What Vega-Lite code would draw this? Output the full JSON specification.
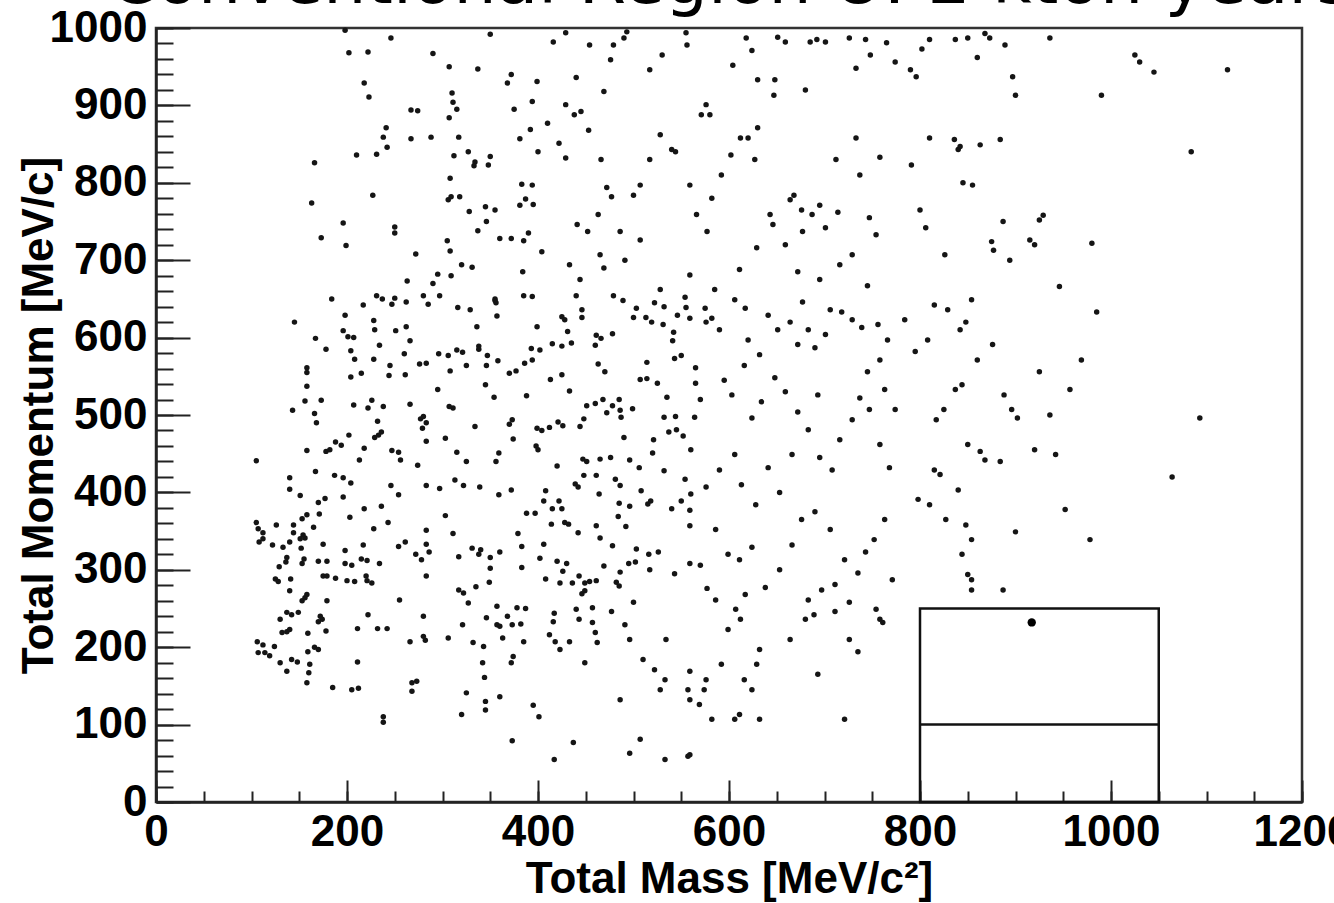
{
  "$schema": "https://vega.github.io/schema/vega-lite/v6.json",
  "width": 1146,
  "height": 774,
  "autosize": {"type": "none"},
  "padding": {"left": 156, "top": 28, "right": 32, "bottom": 101},
  "background": "white",
  "title": {
    "text": "Conventional Region U: 2 kton years",
    "anchor": "start",
    "frame": "group",
    "font": "DejaVu Sans",
    "fontSize": 68,
    "fontWeight": "normal",
    "color": "black",
    "baseline": "alphabetic",
    "offset": -65,
    "dx": -47
  },
  "datasets": {
    "events": [
      {"mass":198,"mom":997},{"mass":202,"mom":968},{"mass":222,"mom":969},{"mass":246,"mom":987},{"mass":290,"mom":967},{"mass":307,"mom":950},{"mass":337,"mom":947},{"mass":350,"mom":992},{"mass":372,"mom":940},{"mass":368,"mom":929},{"mass":399,"mom":931},{"mass":394,"mom":905},{"mass":218,"mom":929},{"mass":223,"mom":911},{"mass":310,"mom":916},{"mass":311,"mom":904},{"mass":315,"mom":895},{"mass":307,"mom":884},{"mass":267,"mom":894},{"mass":274,"mom":893},{"mass":241,"mom":871},{"mass":238,"mom":859},{"mass":242,"mom":846},{"mass":210,"mom":836},{"mass":231,"mom":837},{"mass":267,"mom":857},{"mass":288,"mom":859},{"mass":317,"mom":859},{"mass":375,"mom":895},{"mass":392,"mom":869},{"mass":381,"mom":857},{"mass":410,"mom":877},{"mass":312,"mom":835},{"mass":327,"mom":840},{"mass":334,"mom":827},{"mass":333,"mom":822},{"mass":348,"mom":823},{"mass":350,"mom":834},{"mass":400,"mom":840},{"mass":166,"mom":826},{"mass":308,"mom":806},{"mass":163,"mom":774},{"mass":227,"mom":784},{"mass":383,"mom":798},{"mass":394,"mom":797},{"mass":306,"mom":778},{"mass":309,"mom":782},{"mass":318,"mom":782},{"mass":328,"mom":763},{"mass":345,"mom":769},{"mass":355,"mom":765},{"mass":381,"mom":771},{"mass":387,"mom":779},{"mass":395,"mom":772},{"mass":346,"mom":750},{"mass":337,"mom":738},{"mass":196,"mom":748},{"mass":173,"mom":729},{"mass":199,"mom":719},{"mass":250,"mom":743},{"mass":250,"mom":735},{"mass":305,"mom":725},{"mass":308,"mom":712},{"mass":360,"mom":728},{"mass":372,"mom":728},{"mass":385,"mom":725},{"mass":390,"mom":735},{"mass":272,"mom":708},{"mass":320,"mom":694},{"mass":331,"mom":691},{"mass":384,"mom":685},{"mass":404,"mom":711},{"mass":263,"mom":673},{"mass":295,"mom":682},{"mass":309,"mom":680},{"mass":290,"mom":670},{"mass":184,"mom":650},{"mass":231,"mom":654},{"mass":237,"mom":650},{"mass":250,"mom":651},{"mass":280,"mom":654},{"mass":297,"mom":654},{"mass":355,"mom":650},{"mass":385,"mom":654},{"mass":394,"mom":653},
      {"mass":153,"mom":260},{"mass":179,"mom":260},{"mass":255,"mom":261},{"mass":327,"mom":257},{"mass":357,"mom":253},{"mass":378,"mom":251},{"mass":387,"mom":250},{"mass":417,"mom":244},{"mass":416,"mom":233},{"mass":440,"mom":249},{"mass":457,"mom":251},{"mass":457,"mom":232},{"mass":460,"mom":219},{"mass":462,"mom":206},{"mass":130,"mom":236},{"mass":137,"mom":245},{"mass":142,"mom":242},{"mass":149,"mom":245},{"mass":172,"mom":240},{"mass":174,"mom":236},{"mass":170,"mom":233},{"mass":222,"mom":242},{"mass":280,"mom":240},{"mass":321,"mom":229},{"mass":346,"mom":238},{"mass":357,"mom":229},{"mass":360,"mom":227},{"mass":368,"mom":240},{"mass":373,"mom":229},{"mass":382,"mom":230},{"mass":132,"mom":219},{"mass":137,"mom":220},{"mass":140,"mom":223},{"mass":159,"mom":218},{"mass":178,"mom":221},{"mass":211,"mom":224},{"mass":232,"mom":224},{"mass":242,"mom":224},{"mass":306,"mom":212},{"mass":280,"mom":214},{"mass":282,"mom":209},{"mass":266,"mom":207},{"mass":332,"mom":206},{"mass":343,"mom":201},{"mass":363,"mom":212},{"mass":385,"mom":207},{"mass":412,"mom":216},{"mass":418,"mom":207},{"mass":423,"mom":197},{"mass":433,"mom":207},{"mass":449,"mom":180},{"mass":372,"mom":180},{"mass":374,"mom":188},{"mass":342,"mom":180},{"mass":344,"mom":161},{"mass":106,"mom":207},{"mass":112,"mom":203},{"mass":107,"mom":193},{"mass":114,"mom":193},{"mass":119,"mom":189},{"mass":124,"mom":201},{"mass":130,"mom":180},{"mass":137,"mom":169},{"mass":142,"mom":184},{"mass":148,"mom":181},{"mass":159,"mom":194},{"mass":166,"mom":200},{"mass":170,"mom":197},{"mass":161,"mom":178},{"mass":160,"mom":167},{"mass":158,"mom":154},{"mass":185,"mom":148},{"mass":205,"mom":145},{"mass":212,"mom":147},{"mass":211,"mom":181},{"mass":268,"mom":154},{"mass":268,"mom":143},{"mass":273,"mom":156},{"mass":325,"mom":141},{"mass":320,"mom":113},{"mass":345,"mom":130},{"mass":345,"mom":119},{"mass":360,"mom":136},{"mass":395,"mom":125},{"mass":401,"mom":110},{"mass":238,"mom":110},{"mass":238,"mom":103},{"mass":373,"mom":79},{"mass":437,"mom":77},{"mass":417,"mom":55},{"mass":443,"mom":236},
      {"mass":217,"mom":642},{"mass":247,"mom":643},{"mass":262,"mom":646},{"mass":285,"mom":643},{"mass":316,"mom":639},{"mass":329,"mom":636},{"mass":355,"mom":648},{"mass":356,"mom":645},{"mass":357,"mom":628},{"mass":440,"mom":654},{"mass":446,"mom":636},{"mass":446,"mom":626},{"mass":479,"mom":654},{"mass":489,"mom":648},{"mass":503,"mom":638},{"mass":522,"mom":645},{"mass":532,"mom":640},{"mass":554,"mom":652},{"mass":555,"mom":639},{"mass":546,"mom":629},{"mass":559,"mom":625},{"mass":575,"mom":638},{"mass":576,"mom":620},{"mass":500,"mom":626},{"mass":513,"mom":626},{"mass":519,"mom":620},{"mass":531,"mom":617},{"mass":425,"mom":627},{"mass":428,"mom":623},{"mass":431,"mom":608},{"mass":399,"mom":614},{"mass":336,"mom":614},{"mass":145,"mom":620},{"mass":198,"mom":629},{"mass":228,"mom":622},{"mass":229,"mom":610},{"mass":251,"mom":609},{"mass":262,"mom":614},{"mass":266,"mom":596},{"mass":196,"mom":609},{"mass":201,"mom":601},{"mass":207,"mom":600},{"mass":167,"mom":599},{"mass":178,"mom":585},{"mass":234,"mom":590},{"mass":461,"mom":603},{"mass":466,"mom":599},{"mass":478,"mom":605},{"mass":460,"mom":590},{"mass":542,"mom":607},{"mass":541,"mom":596},{"mass":415,"mom":592},{"mass":425,"mom":589},{"mass":435,"mom":593},{"mass":393,"mom":586},{"mass":402,"mom":584},{"mass":338,"mom":589},{"mass":338,"mom":585},{"mass":347,"mom":577},{"mass":358,"mom":570},{"mass":321,"mom":581},{"mass":315,"mom":584},{"mass":306,"mom":577},{"mass":296,"mom":579},{"mass":204,"mom":583},{"mass":208,"mom":572},{"mass":228,"mom":572},{"mass":260,"mom":579},{"mass":245,"mom":564},{"mass":244,"mom":551},{"mass":261,"mom":552},{"mass":204,"mom":549},{"mass":215,"mom":554},{"mass":158,"mom":561},{"mass":158,"mom":555},{"mass":276,"mom":566},{"mass":283,"mom":567},{"mass":308,"mom":557},{"mass":325,"mom":564},{"mass":346,"mom":564},{"mass":370,"mom":554},{"mass":377,"mom":557},{"mass":386,"mom":567},{"mass":394,"mom":571},{"mass":463,"mom":566},{"mass":470,"mom":556},{"mass":514,"mom":568},{"mass":543,"mom":573},{"mass":550,"mom":577},{"mass":565,"mom":561},{"mass":413,"mom":546},{"mass":425,"mom":552},{"mass":507,"mom":546},{"mass":514,"mom":547},{"mass":525,"mom":541},{"mass":565,"mom":541},{"mass":158,"mom":537},{"mass":295,"mom":533},{"mass":345,"mom":539},{"mass":354,"mom":523},{"mass":388,"mom":525},{"mass":433,"mom":531},{"mass":156,"mom":518},{"mass":173,"mom":519},{"mass":143,"mom":506},{"mass":166,"mom":502},{"mass":168,"mom":490},{"mass":207,"mom":513},{"mass":222,"mom":509},{"mass":226,"mom":519},{"mass":238,"mom":511},{"mass":266,"mom":514},{"mass":307,"mom":511},{"mass":311,"mom":509},{"mass":451,"mom":512},{"mass":460,"mom":515},{"mass":468,"mom":520},{"mass":478,"mom":512},{"mass":485,"mom":520},{"mass":472,"mom":503},{"mass":486,"mom":506},{"mass":487,"mom":497},{"mass":499,"mom":508},{"mass":535,"mom":523},{"mass":570,"mom":520},{"mass":232,"mom":492},{"mass":236,"mom":478},{"mass":229,"mom":471},{"mass":233,"mom":474},{"mass":202,"mom":474},{"mass":277,"mom":495},{"mass":280,"mom":498},{"mass":283,"mom":490},{"mass":279,"mom":483},{"mass":283,"mom":466},{"mass":303,"mom":470},{"mass":334,"mom":485},{"mass":370,"mom":488},{"mass":373,"mom":494},{"mass":374,"mom":469},{"mass":399,"mom":483},{"mass":404,"mom":480},{"mass":412,"mom":484},{"mass":421,"mom":491},{"mass":426,"mom":486},{"mass":444,"mom":485},{"mass":448,"mom":495},{"mass":490,"mom":471},{"mass":521,"mom":468},{"mass":532,"mom":497},{"mass":544,"mom":498},{"mass":564,"mom":497},{"mass":537,"mom":478},{"mass":545,"mom":481},{"mass":552,"mom":473},{"mass":560,"mom":455},{"mass":398,"mom":460},{"mass":400,"mom":455},{"mass":178,"mom":453},{"mass":182,"mom":455},{"mass":188,"mom":465},{"mass":194,"mom":461},{"mass":158,"mom":454},{"mass":218,"mom":457},{"mass":213,"mom":442},{"mass":247,"mom":454},{"mass":254,"mom":452},{"mass":256,"mom":442},{"mass":274,"mom":435},{"mass":315,"mom":452},{"mass":325,"mom":440},{"mass":356,"mom":440},{"mass":359,"mom":451},{"mass":105,"mom":441},{"mass":447,"mom":443},{"mass":451,"mom":440},{"mass":465,"mom":443},{"mass":476,"mom":445},{"mass":496,"mom":442},{"mass":506,"mom":432},{"mass":520,"mom":451},{"mass":420,"mom":434},{"mass":448,"mom":422},{"mass":461,"mom":422},{"mass":439,"mom":411},{"mass":442,"mom":407},{"mass":481,"mom":417},{"mass":486,"mom":409},{"mass":464,"mom":398},{"mass":508,"mom":402},{"mass":532,"mom":428},{"mass":554,"mom":417},{"mass":560,"mom":398},{"mass":576,"mom":407},{"mass":408,"mom":402},{"mass":372,"mom":403},{"mass":359,"mom":397},{"mass":339,"mom":407},{"mass":322,"mom":409},{"mass":313,"mom":416},{"mass":297,"mom":405},{"mass":283,"mom":409},{"mass":246,"mom":409},{"mass":254,"mom":397},{"mass":140,"mom":419},{"mass":140,"mom":404},{"mass":167,"mom":427},{"mass":187,"mom":422},{"mass":196,"mom":419},{"mass":204,"mom":412},{"mass":151,"mom":396},{"mass":196,"mom":394},{"mass":170,"mom":387},{"mass":177,"mom":392},{"mass":218,"mom":379},{"mass":236,"mom":382},{"mass":203,"mom":368},{"mass":171,"mom":372},{"mass":158,"mom":371},{"mass":153,"mom":366},{"mass":144,"mom":358},{"mass":126,"mom":358},{"mass":105,"mom":361},{"mass":107,"mom":353},{"mass":112,"mom":348},{"mass":243,"mom":361},{"mass":228,"mom":353},{"mass":303,"mom":370},{"mass":406,"mom":389},{"mass":415,"mom":379},{"mass":422,"mom":389},{"mass":425,"mom":379},{"mass":388,"mom":373},{"mass":397,"mom":373},{"mass":414,"mom":359},{"mass":428,"mom":361},{"mass":432,"mom":359},{"mass":442,"mom":348},{"mass":461,"mom":357},{"mass":465,"mom":341},{"mass":485,"mom":386},{"mass":496,"mom":382},{"mass":484,"mom":369},{"mass":492,"mom":356},{"mass":515,"mom":385},{"mass":518,"mom":389},{"mass":540,"mom":379},{"mass":550,"mom":389},{"mass":559,"mom":377},{"mass":559,"mom":357},{"mass":311,"mom":347},{"mass":283,"mom":351},{"mass":379,"mom":347},{"mass":165,"mom":355},{"mass":154,"mom":345},{"mass":156,"mom":341},{"mass":144,"mom":348},{"mass":151,"mom":340},{"mass":108,"mom":336},{"mass":112,"mom":340},{"mass":122,"mom":332},{"mass":133,"mom":329},{"mass":140,"mom":336},{"mass":152,"mom":328},{"mass":175,"mom":333},{"mass":198,"mom":325},{"mass":217,"mom":332},{"mass":261,"mom":336},{"mass":254,"mom":330},{"mass":283,"mom":333},{"mass":286,"mom":323},{"mass":272,"mom":320},{"mass":278,"mom":313},{"mass":317,"mom":317},{"mass":331,"mom":328},{"mass":338,"mom":320},{"mass":340,"mom":326},{"mass":350,"mom":316},{"mass":360,"mom":323},{"mass":383,"mom":330},{"mass":406,"mom":333},{"mass":402,"mom":315},{"mass":478,"mom":331},{"mass":503,"mom":327},{"mass":516,"mom":320},{"mass":526,"mom":323},{"mass":137,"mom":316},{"mass":136,"mom":310},{"mass":129,"mom":304},{"mass":155,"mom":314},{"mass":153,"mom":308},{"mass":170,"mom":311},{"mass":179,"mom":311},{"mass":198,"mom":308},{"mass":205,"mom":306},{"mass":215,"mom":314},{"mass":221,"mom":312},{"mass":234,"mom":308},{"mass":420,"mom":311},{"mass":430,"mom":308},{"mass":426,"mom":298},{"mass":469,"mom":305},{"mass":495,"mom":308},{"mass":502,"mom":310},{"mass":517,"mom":300},{"mass":486,"mom":297},{"mass":543,"mom":295},{"mass":559,"mom":308},{"mass":570,"mom":306},{"mass":350,"mom":302},{"mass":383,"mom":303},{"mass":125,"mom":288},{"mass":128,"mom":285},{"mass":141,"mom":288},{"mass":175,"mom":292},{"mass":179,"mom":292},{"mass":188,"mom":289},{"mass":200,"mom":286},{"mass":208,"mom":285},{"mass":220,"mom":292},{"mass":221,"mom":286},{"mass":226,"mom":283},{"mass":283,"mom":292},{"mass":140,"mom":273},{"mass":156,"mom":264},{"mass":158,"mom":268},{"mass":317,"mom":274},{"mass":322,"mom":270},{"mass":335,"mom":278},{"mass":349,"mom":284},{"mass":408,"mom":288},{"mass":423,"mom":283},{"mass":436,"mom":283},{"mass":443,"mom":292},{"mass":449,"mom":283},{"mass":454,"mom":285},{"mass":461,"mom":286},{"mass":482,"mom":284},{"mass":485,"mom":279},{"mass":446,"mom":269},{"mass":449,"mom":273},{"mass":500,"mom":258},{"mass":577,"mom":276},
      {"mass":416,"mom":982},{"mass":429,"mom":994},{"mass":440,"mom":936},{"mass":454,"mom":978},{"mass":469,"mom":918},{"mass":476,"mom":959},{"mass":479,"mom":978},{"mass":490,"mom":987},{"mass":493,"mom":995},{"mass":517,"mom":946},{"mass":530,"mom":965},{"mass":555,"mom":994},{"mass":556,"mom":978},{"mass":571,"mom":888},{"mass":576,"mom":901},{"mass":580,"mom":888},{"mass":604,"mom":952},{"mass":618,"mom":987},{"mass":624,"mom":971},{"mass":630,"mom":933},{"mass":647,"mom":913},{"mass":648,"mom":933},{"mass":651,"mom":988},{"mass":659,"mom":982},{"mass":680,"mom":920},{"mass":685,"mom":982},{"mass":692,"mom":985},{"mass":701,"mom":982},{"mass":726,"mom":987},{"mass":733,"mom":948},{"mass":743,"mom":985},{"mass":748,"mom":965},{"mass":765,"mom":981},{"mass":774,"mom":956},{"mass":790,"mom":946},{"mass":796,"mom":937},{"mass":802,"mom":973},{"mass":810,"mom":985},{"mass":837,"mom":985},{"mass":850,"mom":987},{"mass":860,"mom":962},{"mass":868,"mom":993},{"mass":873,"mom":987},{"mass":897,"mom":937},{"mass":900,"mom":913},{"mass":889,"mom":978},{"mass":936,"mom":987},{"mass":990,"mom":913},{"mass":1025,"mom":965},{"mass":1030,"mom":956},{"mass":1045,"mom":943},{"mass":1122,"mom":946},
      {"mass":429,"mom":901},{"mass":438,"mom":888},{"mass":445,"mom":892},{"mass":422,"mom":851},{"mass":429,"mom":832},{"mass":453,"mom":868},{"mass":466,"mom":830},{"mass":472,"mom":794},{"mass":477,"mom":782},{"mass":463,"mom":759},{"mass":441,"mom":746},{"mass":452,"mom":737},{"mass":465,"mom":707},{"mass":469,"mom":690},{"mass":486,"mom":737},{"mass":500,"mom":784},{"mass":507,"mom":797},{"mass":517,"mom":830},{"mass":528,"mom":862},{"mass":540,"mom":843},{"mass":544,"mom":840},{"mass":559,"mom":797},{"mass":566,"mom":759},{"mass":577,"mom":737},{"mass":582,"mom":780},{"mass":592,"mom":810},{"mass":602,"mom":836},{"mass":612,"mom":858},{"mass":620,"mom":858},{"mass":627,"mom":830},{"mass":630,"mom":871},{"mass":643,"mom":759},{"mass":646,"mom":746},{"mass":664,"mom":778},{"mass":668,"mom":784},{"mass":676,"mom":765},{"mass":687,"mom":759},{"mass":695,"mom":771},{"mass":701,"mom":742},{"mass":712,"mom":830},{"mass":714,"mom":762},{"mass":733,"mom":858},{"mass":737,"mom":810},{"mass":747,"mom":755},{"mass":754,"mom":733},{"mass":758,"mom":833},{"mass":716,"mom":694},{"mass":729,"mom":707},{"mass":745,"mom":667},{"mass":695,"mom":675},{"mass":672,"mom":685},{"mass":611,"mom":688},{"mass":585,"mom":662},{"mass":559,"mom":681},{"mass":528,"mom":662},{"mass":491,"mom":700},{"mass":507,"mom":726},{"mass":444,"mom":675},{"mass":433,"mom":694},{"mass":629,"mom":716},{"mass":659,"mom":720},{"mass":677,"mom":737},
      {"mass":810,"mom":858},{"mass":836,"mom":856},{"mass":840,"mom":843},{"mass":842,"mom":847},{"mass":855,"mom":797},{"mass":863,"mom":849},{"mass":845,"mom":800},{"mass":875,"mom":724},{"mass":877,"mom":713},{"mass":884,"mom":856},{"mass":887,"mom":750},{"mass":915,"mom":726},{"mass":925,"mom":752},{"mass":929,"mom":758},{"mass":946,"mom":666},{"mass":980,"mom":722},{"mass":1084,"mom":840},{"mass":791,"mom":823},{"mass":800,"mom":765},{"mass":806,"mom":742},{"mass":826,"mom":707},{"mass":854,"mom":649},{"mass":920,"mom":720},{"mass":894,"mom":700},
      {"mass":582,"mom":625},{"mass":590,"mom":610},{"mass":606,"mom":649},{"mass":617,"mom":638},{"mass":620,"mom":597},{"mass":632,"mom":578},{"mass":641,"mom":629},{"mass":651,"mom":610},{"mass":664,"mom":620},{"mass":672,"mom":591},{"mass":677,"mom":646},{"mass":683,"mom":610},{"mass":690,"mom":587},{"mass":701,"mom":604},{"mass":706,"mom":636},{"mass":718,"mom":633},{"mass":729,"mom":623},{"mass":739,"mom":613},{"mass":756,"mom":617},{"mass":766,"mom":597},{"mass":595,"mom":545},{"mass":603,"mom":526},{"mass":616,"mom":564},{"mass":624,"mom":496},{"mass":634,"mom":517},{"mass":648,"mom":548},{"mass":659,"mom":530},{"mass":672,"mom":504},{"mass":683,"mom":481},{"mass":695,"mom":445},{"mass":693,"mom":526},{"mass":708,"mom":429},{"mass":716,"mom":468},{"mass":729,"mom":494},{"mass":737,"mom":522},{"mass":747,"mom":507},{"mass":758,"mom":462},{"mass":768,"mom":432},{"mass":590,"mom":429},{"mass":606,"mom":449},{"mass":613,"mom":410},{"mass":628,"mom":384},{"mass":641,"mom":432},{"mass":653,"mom":400},{"mass":666,"mom":449},{"mass":676,"mom":365},{"mass":690,"mom":375},{"mass":706,"mom":352},{"mass":721,"mom":313},{"mass":735,"mom":296},{"mass":743,"mom":323},{"mass":752,"mom":339},{"mass":763,"mom":365},{"mass":771,"mom":287},{"mass":586,"mom":352},{"mass":599,"mom":320},{"mass":611,"mom":313},{"mass":624,"mom":329},{"mass":638,"mom":277},{"mass":653,"mom":300},{"mass":666,"mom":332},{"mass":683,"mom":261},{"mass":697,"mom":274},{"mass":711,"mom":281},{"mass":726,"mom":258},{"mass":586,"mom":261},{"mass":617,"mom":268},{"mass":763,"mom":533},{"mass":774,"mom":507},{"mass":758,"mom":571},{"mass":745,"mom":556},
      {"mass":784,"mom":623},{"mass":795,"mom":582},{"mass":808,"mom":597},{"mass":815,"mom":642},{"mass":829,"mom":636},{"mass":842,"mom":610},{"mass":848,"mom":620},{"mass":860,"mom":571},{"mass":876,"mom":591},{"mass":888,"mom":526},{"mass":896,"mom":507},{"mass":902,"mom":496},{"mass":817,"mom":494},{"mass":825,"mom":507},{"mass":837,"mom":533},{"mass":844,"mom":539},{"mass":850,"mom":462},{"mass":863,"mom":453},{"mass":868,"mom":442},{"mass":884,"mom":440},{"mass":815,"mom":429},{"mass":821,"mom":423},{"mass":840,"mom":403},{"mass":848,"mom":358},{"mass":854,"mom":339},{"mass":844,"mom":320},{"mass":850,"mom":294},{"mass":854,"mom":274},{"mass":798,"mom":391},{"mass":810,"mom":384},{"mass":827,"mom":365},{"mass":900,"mom":349},{"mass":920,"mom":455},{"mass":925,"mom":556},{"mass":936,"mom":500},{"mass":887,"mom":274},
      {"mass":985,"mom":633},{"mass":1093,"mom":496},{"mass":1064,"mom":420},{"mass":952,"mom":378},{"mass":978,"mom":339},{"mass":957,"mom":533},{"mass":969,"mom":571},{"mass":942,"mom":449},
      {"mass":477,"mom":246},{"mass":491,"mom":229},{"mass":496,"mom":210},{"mass":510,"mom":184},{"mass":522,"mom":171},{"mass":528,"mom":145},{"mass":533,"mom":158},{"mass":557,"mom":145},{"mass":559,"mom":169},{"mass":574,"mom":145},{"mass":569,"mom":126},{"mass":576,"mom":158},{"mass":592,"mom":178},{"mass":599,"mom":223},{"mass":612,"mom":236},{"mass":616,"mom":158},{"mass":624,"mom":145},{"mass":629,"mom":178},{"mass":664,"mom":210},{"mass":680,"mom":236},{"mass":689,"mom":242},{"mass":711,"mom":246},{"mass":726,"mom":210},{"mass":735,"mom":194},{"mass":754,"mom":249},{"mass":758,"mom":236},{"mass":507,"mom":81},{"mass":533,"mom":55},{"mass":559,"mom":132},{"mass":582,"mom":107},{"mass":611,"mom":113},{"mass":632,"mom":197},{"mass":693,"mom":165},{"mass":721,"mom":107},{"mass":607,"mom":249},{"mass":534,"mom":210},{"mass":486,"mom":132},{"mass":559,"mom":61},{"mass":632,"mom":107},{"mass":606,"mom":107},{"mass":496,"mom":63},{"mass":557,"mom":59},
      {"mass":854,"mom":287},{"mass":761,"mom":232}
    ],
    "box": [{"x1": 800, "x2": 1050, "y1": 0, "y2": 250}],
    "cut": [{"x1": 800, "x2": 1050, "y": 100}],
    "candidate": [{"mass": 917, "mom": 232}]
  },
  "layer": [
    {
      "data": {"name": "events"},
      "mark": {"type": "circle", "size": 30, "color": "#151515", "opacity": 1},
      "encoding": {
        "x": {
          "field": "mass", "type": "quantitative",
          "scale": {"domain": [0, 1200], "nice": false, "zero": false},
          "axis": {
            "orient": "bottom",
            "values": [0, 200, 400, 600, 800, 1000, 1200],
            "format": "d",
            "title": "Total Mass [MeV/c²]",
            "titleFont": "Liberation Sans", "titleFontSize": 44, "titleFontWeight": "bold", "titleColor": "black",
            "titlePadding": 3,
            "labelFont": "Liberation Sans", "labelFontSize": 44, "labelFontWeight": "bold", "labelColor": "black",
            "labelPadding": 30, "labelFlush": false, "labelOverlap": false,
            "tickSize": -22, "tickWidth": 2, "tickColor": "#222",
            "domainColor": "#222", "domainWidth": 2.5, "grid": false
          }
        },
        "y": {
          "field": "mom", "type": "quantitative",
          "scale": {"domain": [0, 1000], "nice": false, "zero": false},
          "axis": {
            "orient": "left",
            "values": [0, 100, 200, 300, 400, 500, 600, 700, 800, 900, 1000],
            "format": "d",
            "title": "Total Momentum [MeV/c]",
            "titleFont": "Liberation Sans", "titleFontSize": 44, "titleFontWeight": "bold", "titleColor": "black",
            "titlePadding": -12,
            "labelFont": "Liberation Sans", "labelFontSize": 44, "labelFontWeight": "bold", "labelColor": "black",
            "labelPadding": 43, "labelFlush": false, "labelOverlap": false,
            "tickSize": -34, "tickWidth": 2, "tickColor": "#222",
            "domainColor": "#222", "domainWidth": 2.5, "grid": false
          }
        }
      }
    },
    {
      "data": {"name": "box"},
      "mark": {"type": "rect", "fill": "transparent", "stroke": "#111", "strokeWidth": 2.5},
      "encoding": {
        "x": {
          "field": "x1", "type": "quantitative",
          "axis": {
            "orient": "bottom",
            "values": [0, 50, 100, 150, 200, 250, 300, 350, 400, 450, 500, 550, 600, 650, 700, 750, 800, 850, 900, 950, 1000, 1050, 1100, 1150, 1200],
            "labels": false, "domain": false, "title": null, "grid": false,
            "tickSize": -11, "tickWidth": 2, "tickColor": "#222"
          }
        },
        "x2": {"field": "x2"},
        "y": {
          "field": "y1", "type": "quantitative",
          "axis": {
            "orient": "left",
            "values": [0, 20, 40, 60, 80, 100, 120, 140, 160, 180, 200, 220, 240, 260, 280, 300, 320, 340, 360, 380, 400, 420, 440, 460, 480, 500, 520, 540, 560, 580, 600, 620, 640, 660, 680, 700, 720, 740, 760, 780, 800, 820, 840, 860, 880, 900, 920, 940, 960, 980, 1000],
            "labels": false, "domain": false, "title": null, "grid": false,
            "tickSize": -17, "tickWidth": 2, "tickColor": "#222"
          }
        },
        "y2": {"field": "y2"}
      }
    },
    {
      "data": {"name": "cut"},
      "mark": {"type": "rule", "stroke": "#111", "strokeWidth": 2.5},
      "encoding": {
        "x": {"field": "x1", "type": "quantitative", "axis": null},
        "x2": {"field": "x2"},
        "y": {"field": "y", "type": "quantitative", "axis": null}
      }
    },
    {
      "data": {"name": "candidate"},
      "mark": {"type": "circle", "size": 70, "color": "#000", "opacity": 1},
      "encoding": {
        "x": {"field": "mass", "type": "quantitative", "axis": null},
        "y": {"field": "mom", "type": "quantitative", "axis": null}
      }
    }
  ],
  "resolve": {"axis": {"x": "independent", "y": "independent"}},
  "config": {
    "view": {"stroke": "#333", "strokeWidth": 2.5},
    "axis": {"grid": false}
  }
}
